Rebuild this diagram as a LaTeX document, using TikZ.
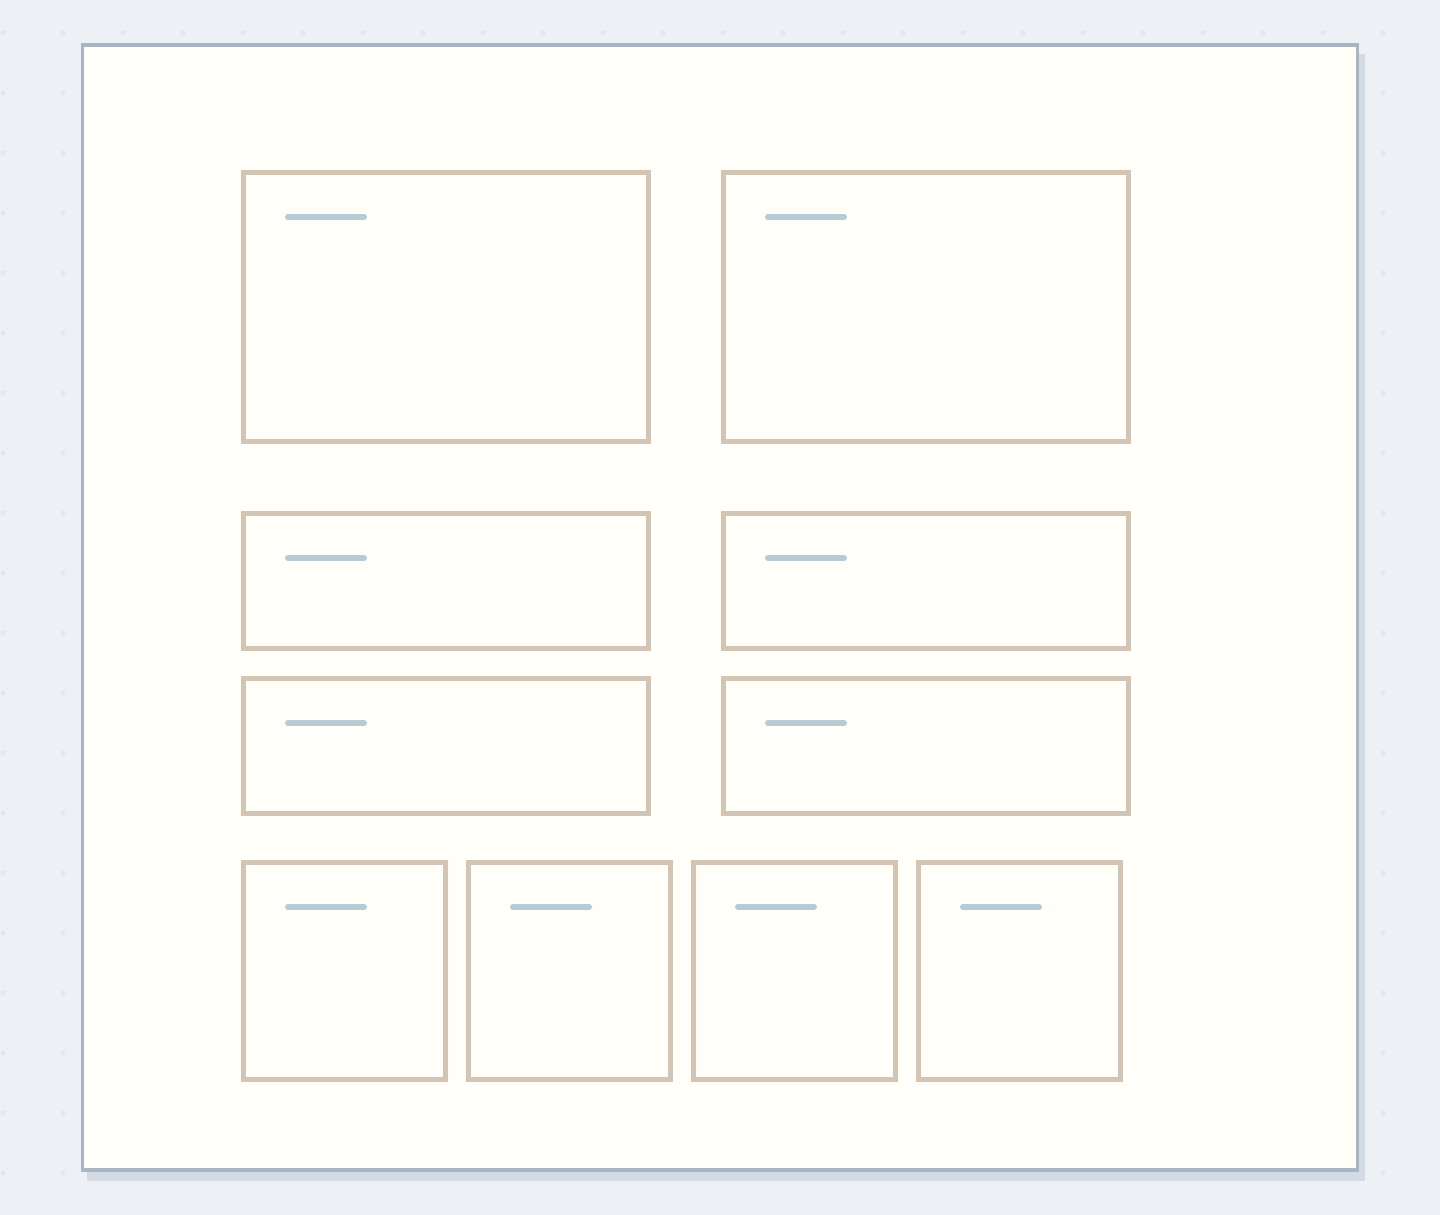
\documentclass[tikz,border=0pt]{standalone}
\usepackage{tikz}
\usepackage{xcolor}
\usetikzlibrary{positioning, calc}
\definecolor{Desk}{HTML}{EDF1F6}
\definecolor{DeskDot}{HTML}{E2E7EE}
\definecolor{Sheet}{HTML}{FFFEF8}
\definecolor{SheetEdge}{HTML}{A9B5C1}
\definecolor{SheetShadow}{HTML}{D3DCE4}
\definecolor{Frame}{HTML}{D3C4B4}
\definecolor{Bar}{HTML}{B8CAD3}

\begin{document}
\begin{tikzpicture}[x=1pt, y=-1pt,
    panel/.style={draw=Frame, line width=4.5pt},
    titlebar/.style={draw=Bar, line width=6pt, line cap=round}]
            \useasboundingbox (0,0) rectangle (1440,1215);
            \fill[Desk] (0,0) rectangle (1440,1215);
            % dotted desk grid
            \foreach \gx in {3,63,...,1443}
                \foreach \gy in {33,93,...,1173}
                    \fill[DeskDot] (\gx,\gy) circle (2.5);

            % sheet with its shadow
            \fill[SheetShadow] (87,54) rectangle (1365,1181);
            \draw[fill=Sheet, draw=SheetEdge, line width=3.5pt] (82.5,45) rectangle (1357.5,1170);

            % two large panels
            \draw[panel] (243.5,172.5) rectangle (648.5,441.5);
            \draw[titlebar] (288,217) -- (364,217);
            \draw[panel] (723.5,172.5) rectangle (1128.5,441.5);
            \draw[titlebar] (768,217) -- (844,217);

            % four medium panels
            \foreach \py in {513.5,678.5} {
                \draw[panel] (243.5,\py) rectangle (648.5,\py+135);
                \draw[titlebar] (288,\py+44.5) -- (364,\py+44.5);
                \draw[panel] (723.5,\py) rectangle (1128.5,\py+135);
                \draw[titlebar] (768,\py+44.5) -- (844,\py+44.5);
            }

            % four small cards
            \foreach \px in {243.5,468.5,693.5,918.5} {
                \draw[panel] (\px,862.5) rectangle (\px+202,1079.5);
                \draw[titlebar] (\px+44.5,907) -- (\px+120.5,907);
            }
        \end{tikzpicture}
\end{document}
